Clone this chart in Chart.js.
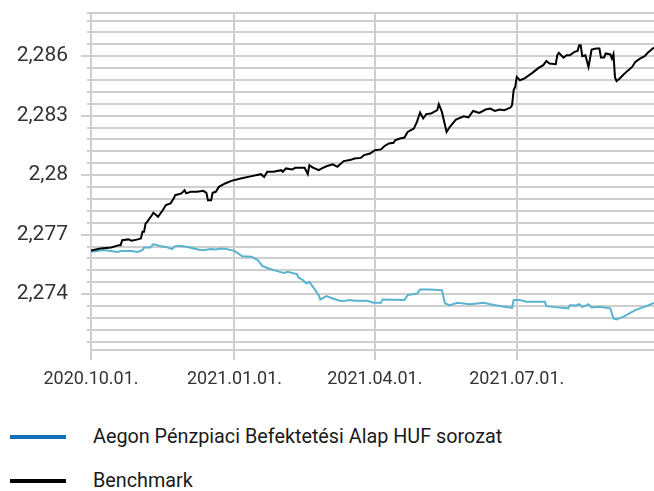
<!DOCTYPE html>
<html>
<head>
<meta charset="utf-8">
<script src="https://cdn.jsdelivr.net/npm/chart.js@4.4.1/dist/chart.umd.min.js"></script>
<style>
  html, body { margin: 0; padding: 0; background: #fff; }
  #wrap { position: relative; width: 654px; height: 491px; overflow: hidden; }
  #chart { position: absolute; left: 0; top: 0; }
  .legend-row { position: absolute; left: 0; width: 654px; height: 24px; font: 19.8px Roboto, sans-serif; color: #1a1a1a; }
  .legend-row .swatch { position: absolute; left: 10px; top: 10px; width: 56px; height: 4px; }
  .legend-row .label { position: absolute; left: 93px; top: 0; line-height: 24px; white-space: nowrap; }
</style>
</head>
<body>
<div id="wrap">
  <canvas id="chart" width="654" height="400"></canvas>
  <div id="legend"></div>
</div>
<script>
// Aegon Pénzpiaci alap vs benchmark, daily rates
const seriesNames = ['Aegon Pénzpiaci Befektetési Alap HUF sorozat', 'Benchmark'];

const fundDates = [
  '2020-10-01', '2020-10-09', '2020-10-18', '2020-10-20', '2020-10-27', '2020-10-31', '2020-11-03', '2020-11-04',
  '2020-11-08', '2020-11-10', '2020-11-14', '2020-11-18', '2020-11-22', '2020-11-24', '2020-11-28', '2020-12-02',
  '2020-12-06', '2020-12-10', '2020-12-13', '2020-12-17', '2020-12-20', '2020-12-23', '2020-12-27', '2020-12-28',
  '2021-01-01', '2021-01-06', '2021-01-12', '2021-01-16', '2021-01-19', '2021-01-23', '2021-01-30', '2021-02-02',
  '2021-02-04', '2021-02-10', '2021-02-11', '2021-02-14', '2021-02-16', '2021-02-18', '2021-02-20', '2021-02-24',
  '2021-02-25', '2021-03-01', '2021-03-05', '2021-03-10', '2021-03-13', '2021-03-16', '2021-03-19', '2021-03-27',
  '2021-03-31', '2021-04-05', '2021-04-06', '2021-04-20', '2021-04-22', '2021-04-28', '2021-04-30', '2021-05-06',
  '2021-05-14', '2021-05-16', '2021-05-19', '2021-05-24', '2021-06-01', '2021-06-10', '2021-06-14', '2021-06-21',
  '2021-06-28', '2021-06-29', '2021-07-03', '2021-07-07', '2021-07-19', '2021-07-20', '2021-07-27', '2021-08-03',
  '2021-08-04', '2021-08-08', '2021-08-10', '2021-08-12', '2021-08-15', '2021-08-16', '2021-08-18', '2021-08-23',
  '2021-08-30', '2021-08-31', '2021-09-01', '2021-09-03', '2021-09-08', '2021-09-15', '2021-09-22', '2021-09-27'
];
const fundValues = [
  2.27613, 2.27622, 2.27613, 2.27617, 2.27617, 2.27613, 2.27622, 2.27635,
  2.27635, 2.27652, 2.27643, 2.27638, 2.27627, 2.27642, 2.27643, 2.27638,
  2.27630, 2.27622, 2.27622, 2.27628, 2.27625, 2.27630, 2.27628, 2.27625,
  2.27618, 2.27591, 2.27588, 2.27571, 2.27541, 2.27529, 2.27512, 2.27507,
  2.27512, 2.27501, 2.27484, 2.27470, 2.27454, 2.27462, 2.27440, 2.27395,
  2.27373, 2.27390, 2.27378, 2.27365, 2.27366, 2.27370, 2.27366, 2.27366,
  2.27356, 2.27356, 2.27373, 2.27370, 2.27395, 2.27403, 2.27423, 2.27423,
  2.27420, 2.27353, 2.27344, 2.27356, 2.27349, 2.27356, 2.27349, 2.27339,
  2.27331, 2.27370, 2.27370, 2.27361, 2.27361, 2.27339, 2.27333, 2.27328,
  2.27344, 2.27343, 2.27349, 2.27336, 2.27344, 2.27349, 2.27333, 2.27336,
  2.27328, 2.27302, 2.27277, 2.27272, 2.27289, 2.27319, 2.27339, 2.27356
];

const benchDates = [
  '2020-10-01', '2020-10-07', '2020-10-14', '2020-10-19', '2020-10-20', '2020-10-21', '2020-10-25', '2020-10-27',
  '2020-10-31', '2020-11-02', '2020-11-03', '2020-11-04', '2020-11-05', '2020-11-06', '2020-11-09', '2020-11-10',
  '2020-11-13', '2020-11-16', '2020-11-18', '2020-11-21', '2020-11-23', '2020-11-24', '2020-11-28', '2020-11-30',
  '2020-12-01', '2020-12-04', '2020-12-08', '2020-12-12', '2020-12-14', '2020-12-15', '2020-12-17', '2020-12-18',
  '2020-12-20', '2020-12-22', '2020-12-26', '2020-12-30', '2021-01-05', '2021-01-12', '2021-01-18', '2021-01-20',
  '2021-01-22', '2021-01-26', '2021-01-31', '2021-02-01', '2021-02-03', '2021-02-07', '2021-02-09', '2021-02-15',
  '2021-02-17', '2021-02-18', '2021-02-20', '2021-02-24', '2021-02-26', '2021-03-01', '2021-03-03', '2021-03-05',
  '2021-03-08', '2021-03-12', '2021-03-16', '2021-03-19', '2021-03-23', '2021-03-25', '2021-03-29', '2021-04-01',
  '2021-04-05', '2021-04-07', '2021-04-10', '2021-04-13', '2021-04-14', '2021-04-17', '2021-04-20', '2021-04-22',
  '2021-04-26', '2021-04-28', '2021-04-30', '2021-05-02', '2021-05-04', '2021-05-07', '2021-05-11', '2021-05-12',
  '2021-05-14', '2021-05-17', '2021-05-19', '2021-05-23', '2021-05-28', '2021-05-31', '2021-06-03', '2021-06-07',
  '2021-06-11', '2021-06-14', '2021-06-17', '2021-06-20', '2021-06-23', '2021-06-27', '2021-06-28', '2021-06-29',
  '2021-06-30', '2021-07-01', '2021-07-03', '2021-07-06', '2021-07-11', '2021-07-15', '2021-07-18', '2021-07-20',
  '2021-07-22', '2021-07-26', '2021-07-27', '2021-07-28', '2021-07-31', '2021-08-02', '2021-08-04', '2021-08-07',
  '2021-08-09', '2021-08-10', '2021-08-11', '2021-08-12', '2021-08-14', '2021-08-16', '2021-08-18', '2021-08-21',
  '2021-08-23', '2021-08-24', '2021-08-26', '2021-08-27', '2021-08-30', '2021-08-31', '2021-09-01', '2021-09-02',
  '2021-09-03', '2021-09-05', '2021-09-07', '2021-09-10', '2021-09-13', '2021-09-15', '2021-09-18', '2021-09-21',
  '2021-09-23', '2021-09-27'
];
const benchValues = [
  2.27620, 2.27630, 2.27635, 2.27647, 2.27647, 2.27672, 2.27676, 2.27669,
  2.27676, 2.27681, 2.27714, 2.27714, 2.27756, 2.27764, 2.27798, 2.27810,
  2.27790, 2.27823, 2.27849, 2.27857, 2.27882, 2.27899, 2.27908, 2.27924,
  2.27908, 2.27916, 2.27916, 2.27921, 2.27911, 2.27874, 2.27874, 2.27911,
  2.27916, 2.27941, 2.27958, 2.27971, 2.27983, 2.27995, 2.28005, 2.27991,
  2.28017, 2.28017, 2.28025, 2.28017, 2.28034, 2.28029, 2.28037, 2.28037,
  2.28005, 2.28050, 2.28039, 2.28025, 2.28034, 2.28045, 2.28050, 2.28055,
  2.28042, 2.28071, 2.28076, 2.28084, 2.28087, 2.28101, 2.28109, 2.28126,
  2.28130, 2.28146, 2.28160, 2.28163, 2.28176, 2.28185, 2.28190, 2.28218,
  2.28235, 2.28269, 2.28316, 2.28286, 2.28308, 2.28311, 2.28328, 2.28358,
  2.28319, 2.28218, 2.28243, 2.28280, 2.28297, 2.28291, 2.28324, 2.28314,
  2.28331, 2.28336, 2.28324, 2.28331, 2.28328, 2.28341, 2.28353, 2.28429,
  2.28445, 2.28496, 2.28479, 2.28488, 2.28516, 2.28541, 2.28555, 2.28576,
  2.28563, 2.28560, 2.28605, 2.28617, 2.28593, 2.28605, 2.28605, 2.28622,
  2.28627, 2.28655, 2.28655, 2.28600, 2.28605, 2.28546, 2.28634, 2.28639,
  2.28639, 2.28593, 2.28593, 2.28614, 2.28609, 2.28588, 2.28610, 2.28493,
  2.28474, 2.28488, 2.28504, 2.28526, 2.28546, 2.28571, 2.28588, 2.28600,
  2.28617, 2.28644
];

// axis ticks
const xTickDates = ['2020-10-01', '2021-01-01', '2021-04-01', '2021-07-01'];
const xTickLabels = ['2020.10.01.', '2021.01.01.', '2021.04.01.', '2021.07.01.'];
const yMajorTicks = [2.274, 2.277, 2.28, 2.283, 2.286];
const yMinorStep = 0.0006;
const yMin = 2.27118;
const yMax = 2.28818;

const lineColors = ['#5ab3cf', '#000000'];
const legendColors = ['#0f70b7', '#000000'];
const gridColor = '#cfcfcf';
const textColor = '#333333';

const startDay = Date.UTC(2020, 9, 1);
function dayOf(s) {
  const p = s.split('-').map(Number);
  return (Date.UTC(p[0], p[1] - 1, p[2]) - startDay) / 86400000;
}

function toPoints(dates, values) {
  return dates.map((d, i) => ({ x: dayOf(d), y: values[i] }));
}

function isMajor(v) {
  return yMajorTicks.some(t => Math.abs(t - v) < 1e-7);
}

// minor grid every 0.0006 below the top edge, top edge closes the box
const yTickValues = [];
for (let v = 2.2716; v < yMax - 1e-7; v += yMinorStep) yTickValues.push(Number(v.toFixed(4)));
yTickValues.push(yMax);

const lastDay = Math.max(dayOf(fundDates[fundDates.length - 1]), dayOf(benchDates[benchDates.length - 1]));

new Chart(document.getElementById('chart'), {
  type: 'line',
  data: {
    datasets: [{
      label: seriesNames[1],
      data: toPoints(benchDates, benchValues),
      borderColor: lineColors[1],
      borderWidth: 2,
      pointRadius: 0,
      tension: 0
    }, {
      label: seriesNames[0],
      data: toPoints(fundDates, fundValues),
      borderColor: lineColors[0],
      borderWidth: 2,
      pointRadius: 0,
      tension: 0
    }]
  },
  options: {
    responsive: false,
    animation: false,
    layout: { padding: { top: 13, right: 0, bottom: 0, left: 0 } },
    plugins: { legend: { display: false }, tooltip: { enabled: false } },
    scales: {
      x: {
        type: 'linear',
        min: 0,
        max: lastDay,
        afterBuildTicks: axis => { axis.ticks = xTickDates.map(d => ({ value: dayOf(d) })); },
        afterFit: axis => { axis.height = 50; axis.paddingLeft = 0; axis.paddingRight = 0; },
        grid: { color: gridColor, lineWidth: 2, tickLength: 10, tickColor: gridColor },
        border: { color: gridColor, width: 2 },
        ticks: {
          autoSkip: false,
          maxRotation: 0,
          padding: 9,
          color: textColor,
          font: { family: 'Roboto', size: 18 },
          callback: function (value) {
            const i = xTickDates.findIndex(d => dayOf(d) === value);
            return i < 0 ? '' : xTickLabels[i];
          }
        }
      },
      y: {
        min: yMin,
        max: yMax,
        afterBuildTicks: axis => { axis.ticks = yTickValues.map(v => ({ value: v })); },
        // fixed axis width, and no extra room above the top tick
        afterFit: axis => { axis.width = 91; axis.paddingTop = 0; axis.paddingBottom = 0; },
        grid: {
          color: gridColor,
          lineWidth: 2,
          tickLength: 10,
          tickColor: gridColor,
          // short stubs on minor lines, long ones at the labels
          tickBorderDash: ctx => (ctx.tick && isMajor(ctx.tick.value)) ? [] : [0, 6, 3, 0]
        },
        border: { color: gridColor, width: 2 },
        ticks: {
          autoSkip: false,
          padding: 13,
          color: textColor,
          font: { family: 'Roboto', size: 21 },
          callback: function (value) {
            const m = yMajorTicks.find(t => Math.abs(t - value) < 1e-7);
            return m === undefined ? '' : String(m).replace('.', ',');
          }
        }
      }
    }
  }
});

// legend below the plot, one row per series
const legend = document.getElementById('legend');
const rowTops = [425, 469];
seriesNames.forEach((name, i) => {
  const row = document.createElement('div');
  row.className = 'legend-row';
  row.style.top = rowTops[i] + 'px';
  const sw = document.createElement('span');
  sw.className = 'swatch';
  sw.style.background = legendColors[i];
  const lb = document.createElement('span');
  lb.className = 'label';
  lb.textContent = name;
  row.appendChild(sw);
  row.appendChild(lb);
  legend.appendChild(row);
});
</script>
</body>
</html>
